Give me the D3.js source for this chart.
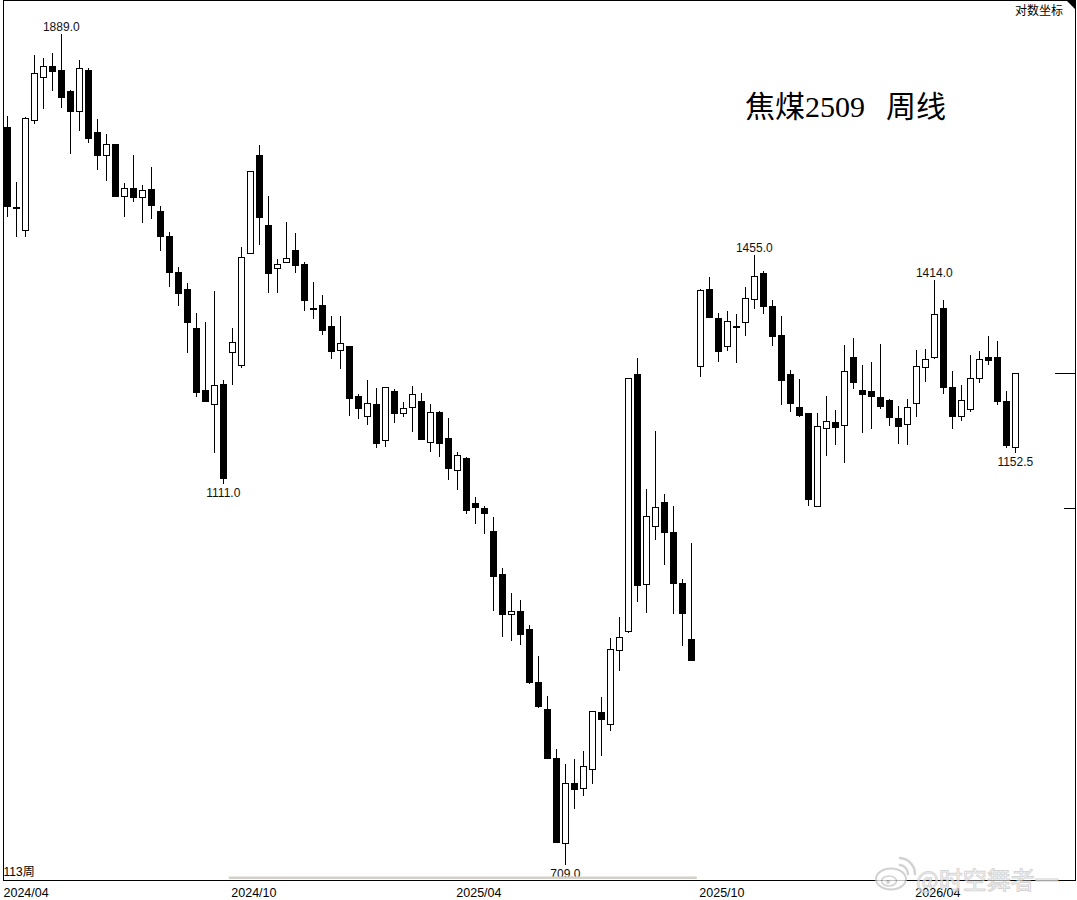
<!DOCTYPE html>
<html><head><meta charset="utf-8">
<script src="https://cdn.jsdelivr.net/npm/d3@7"></script>
<style>html,body{margin:0;padding:0;background:#fff;} svg{display:block}</style>
</head><body>
<svg id="chart" width="1077" height="900"></svg>
<script>
// ---- data (weekly OHLC, log scale) ----
const opens  = [1693,1540,1499,1707,1796,1819,1810,1766,1725,1810,1683,1638,1659,1561,1575,1559,1573,1533,1489,1427,
                1398,1336,1241,1221,1250,1298,1279,1459,1638,1508,1434,1444,1464,1440,1367,1372,1339,1301,1308,1233,
                1204,1221,1170,1240,1208,1217,1225,1168,1210,1173,1130,1146,1087,1080,1051,999,953,957,937,880,
                852,804,728,781,776,794,849,837,914,934,1265,988,1058,1088,1050,989,926,1277,1399,1351,
                1308,1339,1345,1382,1425,1371,1325,1265,1217,1208,1083,1187,1195,1191,1291,1241,1240,1231,1227,1201,
                1193,1223,1276,1291,1367,1246,1204,1214,1259,1291,1291,1225,1161];
const highs  = [1715,1587,1713,1843,1836,1847,1889,1768,1832,1815,1709,1679,1659,1585,1638,1581,1615,1542,1496,1435,
                1408,1359,1345,1395,1256,1336,1469,1607,1657,1561,1449,1513,1494,1444,1410,1389,1355,1355,1308,1236,
                1256,1244,1246,1243,1224,1247,1237,1221,1211,1201,1154,1147,1094,1083,1069,1006,977,969,941,907,
                865,813,799,803,811,850,864,927,950,1259,1289,1105,1183,1098,1083,993,1036,1399,1418,1359,
                1363,1358,1402,1455,1428,1380,1355,1271,1258,1208,1208,1233,1213,1309,1320,1279,1283,1311,1228,1218,
                1228,1301,1303,1414,1380,1270,1249,1294,1300,1323,1315,1240,1267];
const lows   = [1522,1487,1487,1699,1729,1766,1731,1640,1685,1661,1609,1588,1559,1522,1550,1512,1519,1462,1402,1371,
                1297,1231,1224,1152,1111,1249,1274,1459,1473,1392,1392,1443,1425,1363,1350,1325,1288,1273,1204,1200,
                1191,1159,1161,1194,1202,1181,1170,1154,1147,1116,1103,1073,1060,1048,957,928,923,919,878,853,
                803,728,709,757,769,780,806,830,891,932,967,954,1040,1010,953,918,902,1261,1351,1283,
                1300,1282,1323,1366,1358,1308,1220,1210,1203,1083,1083,1148,1164,1139,1243,1180,1186,1214,1190,1165,
                1164,1203,1253,1288,1236,1186,1197,1210,1252,1279,1220,1159,1152.5];
const closes = [1540,1540,1711,1804,1819,1806,1752,1723,1815,1669,1636,1659,1559,1575,1557,1572,1542,1487,1425,1390,
                1343,1237,1224,1249,1118,1314,1452,1607,1521,1423,1440,1451,1437,1379,1367,1331,1298,1312,1229,1214,
                1223,1165,1246,1207,1215,1236,1170,1210,1165,1131,1150,1076,1080,1073,996,952,957,930,879,854,
                803,728,781,775,797,850,841,915,928,1259,985,1070,1082,1049,988,953,902,1397,1351,1298,
                1347,1339,1384,1420,1369,1322,1255,1221,1204,1090,1190,1197,1187,1270,1252,1234,1231,1217,1201,1188,
                1217,1277,1288,1358,1244,1203,1227,1259,1288,1285,1224,1162,1267];

const xTickLabels = ["2024/04","2024/10","2025/04","2025/10","2026/04"];
const xTickIndex  = [0, 25, 50, 77, 101];          // candle index where each month starts
const markIndex   = [6, 24, 62, 83, 103, 112];      // labelled extremes
const markKind    = ["high","low","low","high","high","low"];
const refLevel    = 1080;                           // short marker on right edge
const scrollSpan  = [25, 77];                       // candles under the grey scroll bar
const titleMain   = "焦煤2509";
const titlePeriod = "周线";
const barCountLabel = "113周";
const scaleModeLabel = "对数坐标";
const watermarkText = "@时空舞者一";

// ---- layout ----
const W = 1077, H = 900;
const plot = {left: 3.5, top: 0.5, right: 1075.5, bottom: 880.5};
const padTop = 33.5, padBottom = 15.5, firstOffset = 3.8, step = 9;
const N = opens.length;

const svg = d3.select("#chart");
svg.append("rect").attr("width", W).attr("height", H).attr("fill", "#fff");

const x = d3.scaleLinear().domain([0, N - 1])
  .range([plot.left + firstOffset, plot.left + firstOffset + step * (N - 1)]);
const y = d3.scaleLog().domain([d3.min(lows), d3.max(highs)])
  .range([plot.bottom - padBottom, plot.top + padTop]);

const data = opens.map((o, i) => ({i, o, h: highs[i], l: lows[i], c: closes[i]}));

const g = svg.append("g").attr("shape-rendering", "crispEdges");

// wicks
g.selectAll("line.wick").data(data).join("line")
  .attr("class", "wick")
  .attr("x1", d => Math.floor(x(d.i)) + 0.5)
  .attr("x2", d => Math.floor(x(d.i)) + 0.5)
  .attr("y1", d => Math.round(y(d.h)))
  .attr("y2", d => Math.round(y(d.l)))
  .attr("stroke", "#000").attr("stroke-width", 1);

// bodies
data.forEach(d => {
  const cx = Math.floor(x(d.i));
  const top = Math.round(y(Math.max(d.o, d.c)));
  const bot = Math.round(y(Math.min(d.o, d.c)));
  if (d.c > d.o && bot - top >= 2) {
    g.append("rect")
      .attr("x", cx - 3 + 0.5).attr("y", top + 0.5)
      .attr("width", 6).attr("height", Math.max(1, bot - top))
      .attr("fill", "#fff").attr("stroke", "#000").attr("stroke-width", 1);
  } else {
    g.append("rect")
      .attr("x", cx - 3).attr("y", top)
      .attr("width", 7).attr("height", Math.max(2, bot - top))
      .attr("fill", "#000");
  }
});

// extreme value labels
const lab = svg.append("g")
  .style("font-family", "'Liberation Sans', Arial, sans-serif")
  .style("font-size", "12px").attr("fill", "#111");
markIndex.forEach((idx, k) => {
  const d = data[idx];
  const isHigh = markKind[k] === "high";
  const v = isHigh ? d.h : d.l;
  lab.append("text")
    .attr("x", x(idx)).attr("text-anchor", "middle")
    .attr("y", isHigh ? y(v) - 3 : y(v) + 13)
    .text(v.toFixed(1));
});

// grey scroll bar above bottom edge
svg.append("rect")
  .attr("x", x(scrollSpan[0]) - 3.5)
  .attr("width", x(scrollSpan[1]) - x(scrollSpan[0]))
  .attr("y", plot.bottom - 4).attr("height", 2.5)
  .attr("fill", "#d2d0c8");

// frame
svg.append("rect")
  .attr("x", plot.left).attr("y", plot.top)
  .attr("width", plot.right - plot.left).attr("height", plot.bottom - plot.top)
  .attr("fill", "none").attr("stroke", "#000").attr("stroke-width", 1)
  .attr("shape-rendering", "crispEdges");

// corner triangle
svg.append("path")
  .attr("d", `M${plot.right - 9},${plot.top} L${plot.right},${plot.top} L${plot.right},${plot.top + 9} Z`)
  .attr("fill", "#000");

// right-edge markers
svg.append("line").attr("shape-rendering", "crispEdges")
  .attr("x1", plot.right - 21).attr("x2", plot.right)
  .attr("y1", Math.round(y(closes[N - 1])) + 0.5).attr("y2", Math.round(y(closes[N - 1])) + 0.5)
  .attr("stroke", "#000");
svg.append("line").attr("shape-rendering", "crispEdges")
  .attr("x1", plot.right - 12).attr("x2", plot.right)
  .attr("y1", Math.round(y(refLevel)) + 0.5).attr("y2", Math.round(y(refLevel)) + 0.5)
  .attr("stroke", "#000");

// x-axis labels
const xl = svg.append("g")
  .style("font-family", "'Liberation Sans', Arial, sans-serif")
  .style("font-size", "12.5px").attr("fill", "#000");
xTickIndex.forEach((idx, k) => {
  xl.append("text")
    .attr("x", k === 0 ? plot.left : x(idx) - 1)
    .attr("y", 897)
    .text(xTickLabels[k]);
});

// bar count label
svg.append("text")
  .attr("x", plot.left).attr("y", 876)
  .style("font-family", "'Liberation Sans','Noto Sans CJK SC',sans-serif")
  .style("font-size", "12px").attr("fill", "#000")
  .text(barCountLabel);

// scale mode label
svg.append("text")
  .attr("x", 1063).attr("y", 15).attr("text-anchor", "end")
  .style("font-family", "'Noto Sans CJK SC',sans-serif")
  .style("font-size", "12px").attr("fill", "#000")
  .text(scaleModeLabel);

// title
const title = svg.append("text")
  .attr("x", 745).attr("y", 117)
  .style("font-family", "'Liberation Serif','Noto Sans CJK SC',serif")
  .style("font-size", "30px").attr("fill", "#000");
title.append("tspan").text(titleMain);
title.append("tspan").attr("dx", 21).text(titlePeriod);

// watermark
const wm = svg.append("g").attr("opacity", 0.75);
const logo = wm.append("g").attr("transform", "translate(891,879)");
logo.append("ellipse").attr("rx", 15).attr("ry", 10.5)
  .attr("fill", "#fff").attr("stroke", "#c4c4c4").attr("stroke-width", 2);
logo.append("ellipse").attr("cx", -2).attr("cy", 2).attr("rx", 7.5).attr("ry", 5)
  .attr("fill", "none").attr("stroke", "#c4c4c4").attr("stroke-width", 1.6);
logo.append("circle").attr("cx", -3).attr("cy", 3).attr("r", 2).attr("fill", "#c4c4c4");
logo.append("path").attr("d", "M9,-14 A9,9 0 0 1 17,-5").attr("fill", "none")
  .attr("stroke", "#c4c4c4").attr("stroke-width", 2.5).attr("stroke-linecap", "round");
logo.append("path").attr("d", "M9,-21 A16,16 0 0 1 24,-5").attr("fill", "none")
  .attr("stroke", "#c4c4c4").attr("stroke-width", 2.5).attr("stroke-linecap", "round");
wm.append("text")
  .attr("x", 916).attr("y", 889)
  .style("font-family", "'Noto Sans CJK SC',sans-serif")
  .style("font-size", "24px")
  .attr("fill", "#fff").attr("stroke", "#c8c8c8").attr("stroke-width", 1)
  .text(watermarkText);
</script>
</body></html>
